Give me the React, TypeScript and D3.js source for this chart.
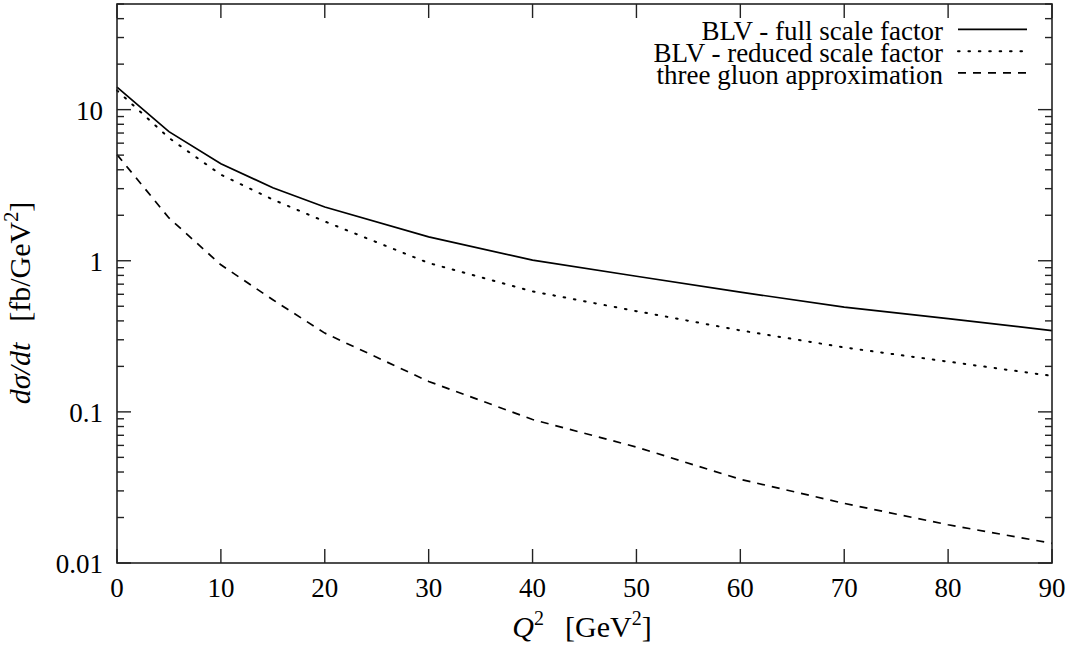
import React from "react";
import * as d3 from "d3";

// Q^2 nodes [GeV^2] and dσ/dt values [fb/GeV^2]
const q2 = [0, 5, 10, 15, 20, 30, 40, 50, 60, 70, 80, 90];
const blvFull = [14.1, 7.15, 4.39, 3.04, 2.27, 1.44, 1.01, 0.79, 0.62, 0.494, 0.414, 0.345];
const blvReduced = [13.4, 6.5, 3.71, 2.54, 1.82, 0.966, 0.627, 0.464, 0.346, 0.267, 0.215, 0.173];
const threeGluon = [5.04, 1.92, 0.94, 0.552, 0.332, 0.159, 0.089, 0.0585, 0.0358, 0.0248, 0.0179, 0.0135];

const xTicks = [0, 10, 20, 30, 40, 50, 60, 70, 80, 90];
const yTicks = [0.01, 0.1, 1, 10];
const yTickLabels = ["0.01", "0.1", "1", "10"];

const seriesNames = [
  "BLV - full scale factor",
  "BLV - reduced scale factor",
  "three gluon approximation",
];

const W = 1070;
const H = 646;
const FONT = "'Liberation Serif', 'DejaVu Serif', serif";

const App: React.FC = () => {
  const margin = { left: 117, right: 18, top: 4, bottom: 83 };
  const x = d3.scaleLinear().domain([0, 90]).range([margin.left, W - margin.right]);
  const y = d3.scaleLog().domain([0.01, 50]).range([H - margin.bottom, margin.top]);

  const [x0, x1] = x.range();
  const [y0, y1] = y.range(); // y0 bottom, y1 top

  // minor log ticks 2..9 per decade
  const minor: number[] = [];
  [0.01, 0.1, 1, 10].forEach((d) => {
    for (let k = 2; k <= 9; k++) {
      const v = d * k;
      if (v <= 50) minor.push(v);
    }
  });

  const line = d3
    .line<number>()
    .x((_, i) => x(q2[i]))
    .y((d) => y(d));

  const series = [
    { values: blvFull, dash: "none", width: 1.7, cap: "butt" },
    { values: blvReduced, dash: "1.6,8.8", width: 2, cap: "round" },
    { values: threeGluon, dash: "8,7", width: 1.7, cap: "butt" },
  ];

  const axisColor = "#222";
  const legendX = 943;
  const legendLine = [958, 1027];
  const legendBase = [40, 62, 83.5];

  return (
    <svg
      width={W}
      height={H}
      style={{ position: "absolute", left: 0, top: 0, background: "#fff" }}
      fontFamily={FONT}
    >
      <rect x={0} y={0} width={W} height={H} fill="#fff" />

      {/* curves */}
      <g fill="none" stroke="#000">
        {series.map((s, i) => (
          <path
            key={i}
            d={line(s.values) ?? ""}
            strokeDasharray={s.dash}
            strokeLinecap={s.cap as any}
            strokeWidth={s.width}
          />
        ))}
      </g>

      {/* frame */}
      <rect
        x={x0}
        y={y1}
        width={x1 - x0}
        height={y0 - y1}
        fill="none"
        stroke={axisColor}
        strokeWidth={1.6}
      />

      {/* ticks */}
      <g stroke={axisColor} strokeWidth={1.4}>
        {yTicks.map((t) => (
          <g key={"yM" + t}>
            <line x1={x0} x2={x0 + 14} y1={y(t)} y2={y(t)} />
            <line x1={x1} x2={x1 - 14} y1={y(t)} y2={y(t)} />
          </g>
        ))}
        {minor.map((t) => (
          <g key={"ym" + t}>
            <line x1={x0} x2={x0 + 7} y1={y(t)} y2={y(t)} />
            <line x1={x1} x2={x1 - 7} y1={y(t)} y2={y(t)} />
          </g>
        ))}
        {xTicks.map((t) => (
          <g key={"x" + t}>
            <line x1={x(t)} x2={x(t)} y1={y0} y2={y0 - 14} />
            <line x1={x(t)} x2={x(t)} y1={y1} y2={y1 + 14} />
          </g>
        ))}
      </g>

      {/* tick labels */}
      <g fontSize={27} fill="#000">
        {yTicks.map((t, i) => (
          <text key={"yl" + t} x={x0 - 14} y={y(t) + 10} textAnchor="end">
            {yTickLabels[i]}
          </text>
        ))}
        {xTicks.map((t) => (
          <text key={"xl" + t} x={x(t)} y={597} textAnchor="middle">
            {t}
          </text>
        ))}
      </g>

      {/* x axis label */}
      <text x={582} y={637} fontSize={30} textAnchor="middle" fill="#000">
        <tspan fontStyle="italic">Q</tspan>
        <tspan fontSize={20} dy={-12}>2</tspan>
        <tspan dy={12}>{"\u2002\u2009[GeV"}</tspan>
        <tspan fontSize={20} dy={-12}>2</tspan>
        <tspan dy={12}>]</tspan>
      </text>

      {/* y axis label */}
      <text
        transform={`translate(30,303) rotate(-90)`}
        fontSize={30}
        textAnchor="middle"
        fill="#000"
      >
        <tspan fontStyle="italic">{"d\u03c3/dt"}</tspan>
        <tspan>{"\u2002\u2009[fb/GeV"}</tspan>
        <tspan fontSize={20} dy={-12}>2</tspan>
        <tspan dy={12}>]</tspan>
      </text>

      {/* legend */}
      <g fontSize={27} fill="#000">
        {seriesNames.map((name, i) => (
          <g key={name}>
            <text x={legendX} y={legendBase[i]} textAnchor="end">
              {name}
            </text>
            <line
              x1={legendLine[0]}
              x2={legendLine[1]}
              y1={legendBase[i] - 10.7}
              y2={legendBase[i] - 10.7}
              stroke="#000"
              strokeWidth={series[i].width}
              strokeDasharray={series[i].dash}
              strokeLinecap={series[i].cap as any}
            />
          </g>
        ))}
      </g>
    </svg>
  );
};

export default App;
